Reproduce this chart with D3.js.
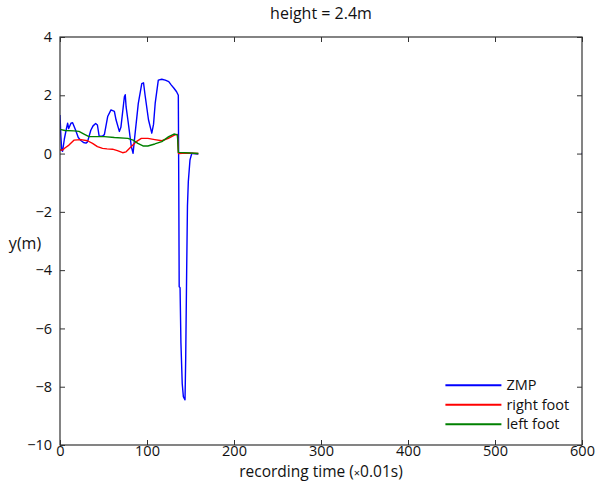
<!DOCTYPE html>
<html>
<head>
<meta charset="utf-8">
<script src="https://cdn.jsdelivr.net/npm/d3@7"></script>
<style>
  body { margin: 0; background: #fff; }
  svg { display: block; }
  text { font-family: "Open Sans", "Noto Sans", sans-serif; fill: #111; }
  .frame { fill: none; stroke: #333; stroke-width: 1.2; }
  .axis path { display: none; }
  .axis line { stroke: #333; }
  .axis text { font-size: 14.5px; }
  .series { fill: none; stroke-width: 1.4; stroke-linejoin: round; }
</style>
</head>
<body>
<div id="chart"></div>
<script>
// values: [time (x0.01s), y (m)], null = gap
const zmp = [
  [0, 1.32], [1, 0.6], [2, 0.12], [3, 0.08], [5, 0.5], [7, 0.8], [8.8, 1.04], [10, 0.86],
  [12.6, 1.04], [14.5, 1.06], [18, 0.8], [21, 0.55], [24, 0.45], [27, 0.38], [29.9, 0.36],
  [31.6, 0.4], [35.4, 0.8], [38, 0.95], [41, 1.03], [43, 0.98], [45, 0.6], [48.9, 0.6],
  [51, 0.65], [54.8, 1.27], [58.6, 1.5], [62.5, 1.45], [64.4, 1.16], [68.2, 0.76],
  [70, 0.9], [74, 1.95], [75, 2.02], [76, 1.6], [78, 1.16], [82, 0.24], [84, 0.01],
  [86, 0.6], [90, 1.72], [94, 2.4], [96, 2.43], [97.8, 2.0], [101.7, 1.16], [105.5, 0.7],
  [107.5, 1.0], [109.4, 1.72], [113, 2.52], [117, 2.55], [121, 2.52], [125, 2.47],
  [128, 2.35], [131, 2.24], [134, 2.12], [136, 2.0], [136.5, -1.0], [137, -4.57],
  [138, -4.6], [139, -6.5], [140.5, -7.9], [141.8, -8.34], [143.7, -8.45], [144.5, -7.0],
  [145.6, -4.0], [146.5, -1.8], [147.5, -0.96], [149.4, -0.22], [151.4, 0.0], [153, 0.0],
  [159, -0.02], null, [599.5, 0.0], [600, 0.0]
];
const rightFoot = [
  [0, 0.12], [3, 0.12], [6, 0.2], [10.3, 0.29], [16, 0.46], [24, 0.48], [31.6, 0.44],
  [37.4, 0.35], [43, 0.24], [48.9, 0.18], [54, 0.16], [60.3, 0.15], [66, 0.1],
  [72, 0.03], [76, 0.06], [82, 0.24], [87.7, 0.41], [93.5, 0.52], [101, 0.52],
  [109, 0.48], [117, 0.44], [124.5, 0.52], [132, 0.64], [135, 0.66], [136.2, 0.0],
  [145, 0.02], [159, 0.0]
];
const leftFoot = [
  [0, 0.83], [5.7, 0.79], [16, 0.78], [21.8, 0.76], [27.6, 0.67], [33.3, 0.58],
  [39, 0.58], [51, 0.58], [62.5, 0.55], [78, 0.52], [84, 0.46], [89.5, 0.35],
  [95.4, 0.26], [101, 0.26], [109, 0.33], [117, 0.41], [125, 0.58], [131, 0.67],
  [135, 0.64], [136, 0.04], [150, 0.02], [159, 0.0]
];

const seriesNames = ['ZMP', 'right foot', 'left foot'];
const seriesData = [zmp, rightFoot, leftFoot];
const seriesColors = ['#0000ff', '#ff0000', '#008000'];

const xTicks = [0, 100, 200, 300, 400, 500, 600];
const yTicks = [4, 2, 0, -2, -4, -6, -8, -10];

const W = 595, H = 481;
const margin = { top: 37, right: 13, bottom: 36, left: 60 };
const width = W - margin.left - margin.right;
const height = H - margin.top - margin.bottom;

const svg = d3.select('#chart').append('svg')
  .attr('width', W)
  .attr('height', H);

const g = svg.append('g')
  .attr('transform', 'translate(' + margin.left + ',' + margin.top + ')');

const x = d3.scaleLinear().domain([0, 600]).range([0, width]);
const y = d3.scaleLinear().domain([-10, 4]).range([height, 0]);

// clip the lines to the axes box
g.append('clipPath').attr('id', 'clip')
  .append('rect').attr('width', width).attr('height', height);

const line = d3.line()
  .defined(d => d !== null)
  .x(d => x(d[0]))
  .y(d => y(d[1]));

const lines = g.append('g').attr('clip-path', 'url(#clip)');
seriesData.forEach((data, i) => {
  lines.append('path')
    .datum(data)
    .attr('class', 'series')
    .attr('stroke', seriesColors[i])
    .attr('d', line);
});

// axes with inward ticks on all four sides
g.append('g').attr('class', 'axis')
  .attr('transform', 'translate(0,' + height + ')')
  .call(d3.axisBottom(x).tickValues(xTicks).tickSize(-5).tickPadding(1));
g.append('g').attr('class', 'axis')
  .call(d3.axisTop(x).tickValues(xTicks).tickSize(-5).tickFormat(''));
g.append('g').attr('class', 'axis')
  .call(d3.axisLeft(y).tickValues(yTicks).tickSize(-5).tickPadding(8)
    .tickFormat(d => d < 0 ? '\u2212' + Math.abs(d) : d));
g.append('g').attr('class', 'axis')
  .attr('transform', 'translate(' + width + ',0)')
  .call(d3.axisRight(y).tickValues(yTicks).tickSize(-5).tickFormat(''));

g.append('rect')
  .attr('class', 'frame')
  .attr('width', width)
  .attr('height', height);

// title and axis labels
svg.append('text')
  .attr('x', margin.left + width / 2)
  .attr('y', 19)
  .attr('text-anchor', 'middle')
  .style('font-size', '16px')
  .text('height = 2.4m');

svg.append('text')
  .attr('x', 25)
  .attr('y', 249)
  .attr('text-anchor', 'middle')
  .style('font-size', '16px')
  .text('y(m)');

const xl = svg.append('text')
  .attr('x', margin.left + width / 2)
  .attr('y', 477)
  .attr('text-anchor', 'middle')
  .style('font-size', '15.5px');
xl.append('tspan').text('recording time (');
xl.append('tspan').style('font-size', '11px').text('\u00d7');
xl.append('tspan').text('0.01s)');

// legend, no frame
const legend = g.append('g')
  .attr('transform', 'translate(' + x(443) + ',' + y(-7.95) + ')');
seriesNames.forEach((name, i) => {
  const row = legend.append('g').attr('transform', 'translate(0,' + (i * 19.5) + ')');
  row.append('line')
    .attr('x1', 0).attr('x2', 56)
    .attr('stroke', seriesColors[i])
    .attr('stroke-width', 2);
  row.append('text')
    .attr('x', 61)
    .attr('dy', '0.35em')
    .style('font-size', '14.5px')
    .text(name);
});
</script>
</body>
</html>
